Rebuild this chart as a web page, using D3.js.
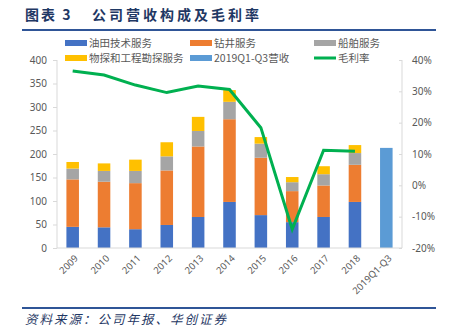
<!DOCTYPE html>
<html>
<head>
<meta charset="utf-8">
<script src="https://cdn.jsdelivr.net/npm/d3@7"></script>
<style>
body{margin:0;background:#fff;}
svg{display:block;font-family:"Noto Sans CJK SC","Noto Sans",sans-serif;}
</style>
</head>
<body>
<svg id="chart" width="449" height="332"></svg>
<script>
// data
var years = ["2009","2010","2011","2012","2013","2014","2015","2016","2017","2018","2019Q1-Q3"];
var oilfield = [45,44,40,49,66,98,70,55,66,98,0];
var drilling = [101,97,98,116,150,176,122,66,67,79,0];
var shipping = [23,23,26,30,33,37,30,19,24,25,0];
var survey = [14,16,24,30,30,25,14,11,17,17,0];
var rev2019 = [0,0,0,0,0,0,0,0,0,0,213];
var margin = [36.5,35.2,32.0,29.6,31.7,30.6,18.4,-14.0,11.2,10.9];
var leftTicks = [0,50,100,150,200,250,300,350,400];
var rightTicks = [-20,-10,0,10,20,30,40];

var series = [
  {name:"油田技术服务", vals:oilfield, color:"#4472c4"},
  {name:"钻井服务", vals:drilling, color:"#ed7d31"},
  {name:"船舶服务", vals:shipping, color:"#a5a5a5"},
  {name:"物探和工程勘探服务", vals:survey, color:"#ffc000"},
  {name:"2019Q1-Q3营收", vals:rev2019, color:"#5b9bd5"}
];

var svg = d3.select("#chart");
var x0 = 57, x1 = 402, yTop = 60, yBot = 248;

var x = d3.scaleBand().domain(years).range([x0,x1]).paddingInner(0.6).paddingOuter(0.3);
var y = d3.scaleLinear().domain([0,400]).range([yBot,yTop]);
var y2 = d3.scaleLinear().domain([-20,40]).range([yBot,yTop]);

// title
var title = svg.append("text").attr("y",20).attr("fill","#1f3864")
  .style("font-size","14px").style("font-weight","bold");
title.append("tspan").attr("x",25).style("letter-spacing","2px").text("图表 3");
title.append("tspan").attr("x",92).style("letter-spacing","3px").text("公司营收构成及毛利率");
svg.append("line").attr("x1",22).attr("x2",436).attr("y1",30).attr("y2",30)
  .attr("stroke","#2f5597").attr("stroke-width",2);

// stacked bars
var stack = d3.stack().keys(d3.range(series.length)).value(function(d,k){return series[k].vals[d];});
var layers = stack(d3.range(years.length));
layers.forEach(function(layer,k){
  svg.append("g").selectAll("rect").data(layer).enter().append("rect")
    .attr("x",function(d,i){return x(years[i]);})
    .attr("width",x.bandwidth())
    .attr("y",function(d){return y(d[1]);})
    .attr("height",function(d){return y(d[0])-y(d[1]);})
    .attr("fill",series[k].color);
});

// axes
var axCol = "#d9d9d9", txtCol = "#595959";
var gl = svg.append("g").attr("transform","translate("+x0+",0)")
  .call(d3.axisLeft(y).tickValues(leftTicks).tickSize(4).tickPadding(6));
var gr = svg.append("g").attr("transform","translate("+x1+",0)")
  .call(d3.axisRight(y2).tickValues(rightTicks).tickSize(0).tickPadding(10)
    .tickFormat(function(d){return d+"%";}));
gr.selectAll(".tick line").attr("x1",-3).attr("x2",0);
[gl,gr].forEach(function(g){
  g.select(".domain").attr("stroke",axCol);
  g.selectAll(".tick line").attr("stroke",axCol);
  g.selectAll("text").attr("fill",txtCol).style("font-size","10px")
    .style("font-family","'Noto Sans',sans-serif");
});
gl.select(".domain").attr("d","M0,"+yTop+"V"+yBot);
gr.select(".domain").attr("d","M0,"+yTop+"V"+yBot);

var gb = svg.append("g").attr("transform","translate(0,"+yBot+")")
  .call(d3.axisBottom(x).tickSize(0).tickPadding(0));
gb.select(".domain").attr("stroke",axCol).attr("d","M"+x0+",0H"+x1);
gb.selectAll("text").attr("fill",txtCol).style("font-size","9.5px")
  .style("font-family","'Noto Sans',sans-serif")
  .attr("text-anchor","end").attr("dy","0.3em")
  .attr("transform","translate(4,9) rotate(-45)");

// margin line
var line = d3.line().x(function(d,i){return x(years[i])+x.bandwidth()/2;}).y(function(d){return y2(d);});
svg.append("path").datum(margin).attr("d",line).attr("fill","none")
  .attr("stroke","#00b050").attr("stroke-width",3).attr("stroke-linejoin","miter");

// legend
var legend = [
  {name:series[0].name, color:series[0].color, x:65, y:43},
  {name:series[1].name, color:series[1].color, x:190, y:43},
  {name:series[2].name, color:series[2].color, x:314, y:43},
  {name:series[3].name, color:series[3].color, x:65, y:58},
  {name:series[4].name, color:series[4].color, x:190, y:58},
  {name:"毛利率", color:"#00b050", x:314, y:58, line:true}
];
var lg = svg.append("g").selectAll("g").data(legend).enter().append("g")
  .attr("transform",function(d){return "translate("+d.x+","+d.y+")";});
lg.append("rect").attr("x",0).attr("width",22)
  .attr("y",function(d){return d.line?-1.5:-3;})
  .attr("height",function(d){return d.line?3:6;})
  .attr("fill",function(d){return d.color;});
lg.append("text").attr("x",24).attr("dy","0.35em").attr("fill",txtCol)
  .style("font-size","10.5px").text(function(d){return d.name;});

// source
svg.append("line").attr("x1",22).attr("x2",436).attr("y1",308).attr("y2",308)
  .attr("stroke","#2f5597").attr("stroke-width",2);
svg.append("text").attr("x",25).attr("y",324).attr("fill","#1f3864")
  .style("font-size","12.5px").style("font-style","italic").style("letter-spacing","2px")
  .text("资料来源：公司年报、华创证券");
</script>
</body>
</html>
